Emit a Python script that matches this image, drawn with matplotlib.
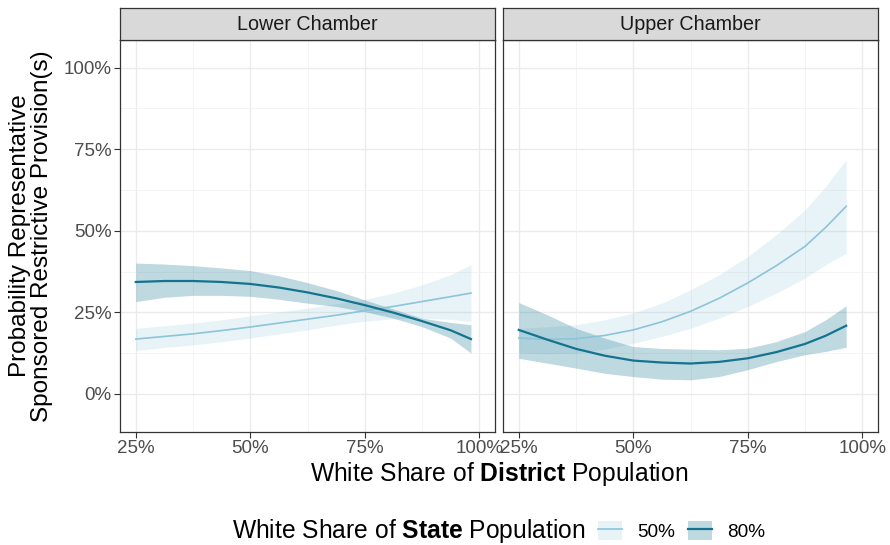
import numpy as np
import matplotlib.pyplot as plt
from matplotlib.patches import Patch, Rectangle
from matplotlib.lines import Line2D
from matplotlib.ticker import FixedLocator, PercentFormatter

plt.rcParams['font.family'] = ['Liberation Sans', 'DejaVu Sans']
plt.rcParams['mathtext.fontset'] = 'custom'
plt.rcParams['mathtext.rm'] = 'Liberation Sans'
plt.rcParams['mathtext.bf'] = 'Liberation Sans:bold'

# predicted probabilities by district white share
x_lower = [0.25, 0.3125, 0.375, 0.4375, 0.5, 0.5625, 0.625, 0.6875, 0.75, 0.8125, 0.875, 0.9375, 0.982]
x_upper = [0.25, 0.3125, 0.375, 0.4375, 0.5, 0.5625, 0.625, 0.6875, 0.75, 0.8125, 0.875, 0.92, 0.965]

lower_50 = [0.168, 0.176, 0.184, 0.194, 0.205, 0.217, 0.229, 0.241, 0.255, 0.268, 0.283, 0.298, 0.309]
lower_50_hi = [0.201, 0.209, 0.217, 0.227, 0.239, 0.251, 0.263, 0.276, 0.290, 0.309, 0.334, 0.365, 0.396]
lower_50_lo = [0.133, 0.142, 0.150, 0.160, 0.171, 0.184, 0.196, 0.211, 0.223, 0.230, 0.232, 0.228, 0.222]

lower_80 = [0.343, 0.346, 0.346, 0.343, 0.337, 0.326, 0.311, 0.293, 0.272, 0.249, 0.223, 0.195, 0.168]
lower_80_hi = [0.401, 0.398, 0.393, 0.386, 0.378, 0.362, 0.341, 0.317, 0.288, 0.260, 0.232, 0.219, 0.212]
lower_80_lo = [0.283, 0.296, 0.302, 0.302, 0.299, 0.290, 0.278, 0.268, 0.252, 0.232, 0.206, 0.171, 0.125]

upper_50 = [0.171, 0.167, 0.169, 0.179, 0.196, 0.221, 0.253, 0.293, 0.340, 0.393, 0.452, 0.510, 0.575]
upper_50_hi = [0.200, 0.206, 0.212, 0.227, 0.248, 0.278, 0.319, 0.365, 0.421, 0.488, 0.564, 0.636, 0.718]
upper_50_lo = [0.125, 0.123, 0.125, 0.137, 0.155, 0.176, 0.201, 0.232, 0.268, 0.309, 0.355, 0.396, 0.431]

upper_80 = [0.196, 0.166, 0.138, 0.117, 0.102, 0.096, 0.093, 0.098, 0.109, 0.128, 0.153, 0.178, 0.209]
upper_80_hi = [0.280, 0.242, 0.201, 0.171, 0.145, 0.139, 0.137, 0.135, 0.140, 0.160, 0.191, 0.227, 0.270]
upper_80_lo = [0.109, 0.094, 0.079, 0.063, 0.053, 0.045, 0.043, 0.053, 0.074, 0.099, 0.120, 0.130, 0.143]

panels = ["Lower Chamber", "Upper Chamber"]
state_levels = ["50%", "80%"]
line_colors = {"50%": "#8cc4da", "80%": "#14738f"}
band_alpha = {"50%": 0.2, "80%": 0.27}
line_widths = {"50%": 1.2, "80%": 1.6}

data = {
    "Lower Chamber": (x_lower, {"50%": (lower_50, lower_50_lo, lower_50_hi),
                                "80%": (lower_80, lower_80_lo, lower_80_hi)}),
    "Upper Chamber": (x_upper, {"50%": (upper_50, upper_50_lo, upper_50_hi),
                                "80%": (upper_80, upper_80_lo, upper_80_hi)}),
}

fig = plt.figure(figsize=(8.9, 5.45), dpi=100)
W, H = 890, 545
lefts = [120, 503]
pw, top, bottom = 375, 40, 432

for name, left in zip(panels, lefts):
    ax = fig.add_axes([left / W, (H - bottom) / H, pw / W, (bottom - top) / H])
    xs, series = data[name]
    for lev in state_levels:
        y, lo, hi = series[lev]
        ax.fill_between(xs, lo, hi, color=line_colors[lev], alpha=band_alpha[lev],
                        linewidth=0, zorder=2)
    for lev in state_levels:
        y, lo, hi = series[lev]
        ax.plot(xs, y, color=line_colors[lev], lw=line_widths[lev], zorder=3,
                solid_joinstyle="round")

    ax.set_xlim(0.2155, 1.0345)
    ax.set_ylim(-0.117, 1.085)
    ax.xaxis.set_major_locator(FixedLocator([0.25, 0.5, 0.75, 1.0]))
    ax.xaxis.set_minor_locator(FixedLocator([0.375, 0.625, 0.875]))
    ax.yaxis.set_major_locator(FixedLocator([0, 0.25, 0.5, 0.75, 1.0]))
    ax.yaxis.set_minor_locator(FixedLocator([-0.125, 0.125, 0.375, 0.625, 0.875]))
    ax.xaxis.set_major_formatter(PercentFormatter(1.0, decimals=0))
    ax.yaxis.set_major_formatter(PercentFormatter(1.0, decimals=0))
    ax.grid(which="major", color="#ebebeb", lw=1.0, zorder=0)
    ax.grid(which="minor", color="#f2f2f2", lw=0.6, zorder=0)
    ax.set_axisbelow(True)
    ax.tick_params(which="major", length=4, width=0.8, color="#333333",
                   labelsize=13.5, labelcolor="#4d4d4d", pad=2)
    ax.tick_params(which="minor", length=0)
    for s in ax.spines.values():
        s.set_color("#333333")
        s.set_linewidth(0.9)
    if left != lefts[0]:
        ax.tick_params(axis="y", labelleft=False, length=0)

    # facet strip
    strip = fig.add_axes([left / W, (H - top) / H, pw / W, 32 / H])
    strip.add_patch(Rectangle((0, 0), 1, 1, transform=strip.transAxes,
                              facecolor="#d9d9d9", edgecolor="none"))
    strip.set_xticks([])
    strip.set_yticks([])
    for s in strip.spines.values():
        s.set_color("#333333")
        s.set_linewidth(0.9)
    strip.text(0.5, 0.5, name, ha="center", va="center", fontsize=14.2,
               color="#1a1a1a")

fig.text(499 / W, (H - 474) / H, r"White Share of $\mathbf{District}$ Population",
         ha="center", va="center", fontsize=17.7)
fig.text(31 / W, (H - 236) / H,
         "Probability Representative\nSponsored Restrictive Provision(s)",
         ha="center", va="center", rotation=90, fontsize=17.5, linespacing=1.0)

fig.text(232 / W, (H - 531) / H, r"White Share of $\mathbf{State}$ Population",
         ha="left", va="center", fontsize=17.7)

handles = [(Patch(facecolor=line_colors[lev], alpha=band_alpha[lev], edgecolor="none"),
            Line2D([], [], color=line_colors[lev], lw=line_widths[lev]))
           for lev in state_levels]
fig.legend(handles, state_levels, loc="center left",
           bbox_to_anchor=(598 / W, (H - 531) / H), ncol=2, frameon=False,
           fontsize=13.7, handlelength=1.26, handleheight=1.2, columnspacing=0.7,
           handletextpad=0.8, borderaxespad=0, borderpad=0)

fig.savefig("out.png", dpi=100)
